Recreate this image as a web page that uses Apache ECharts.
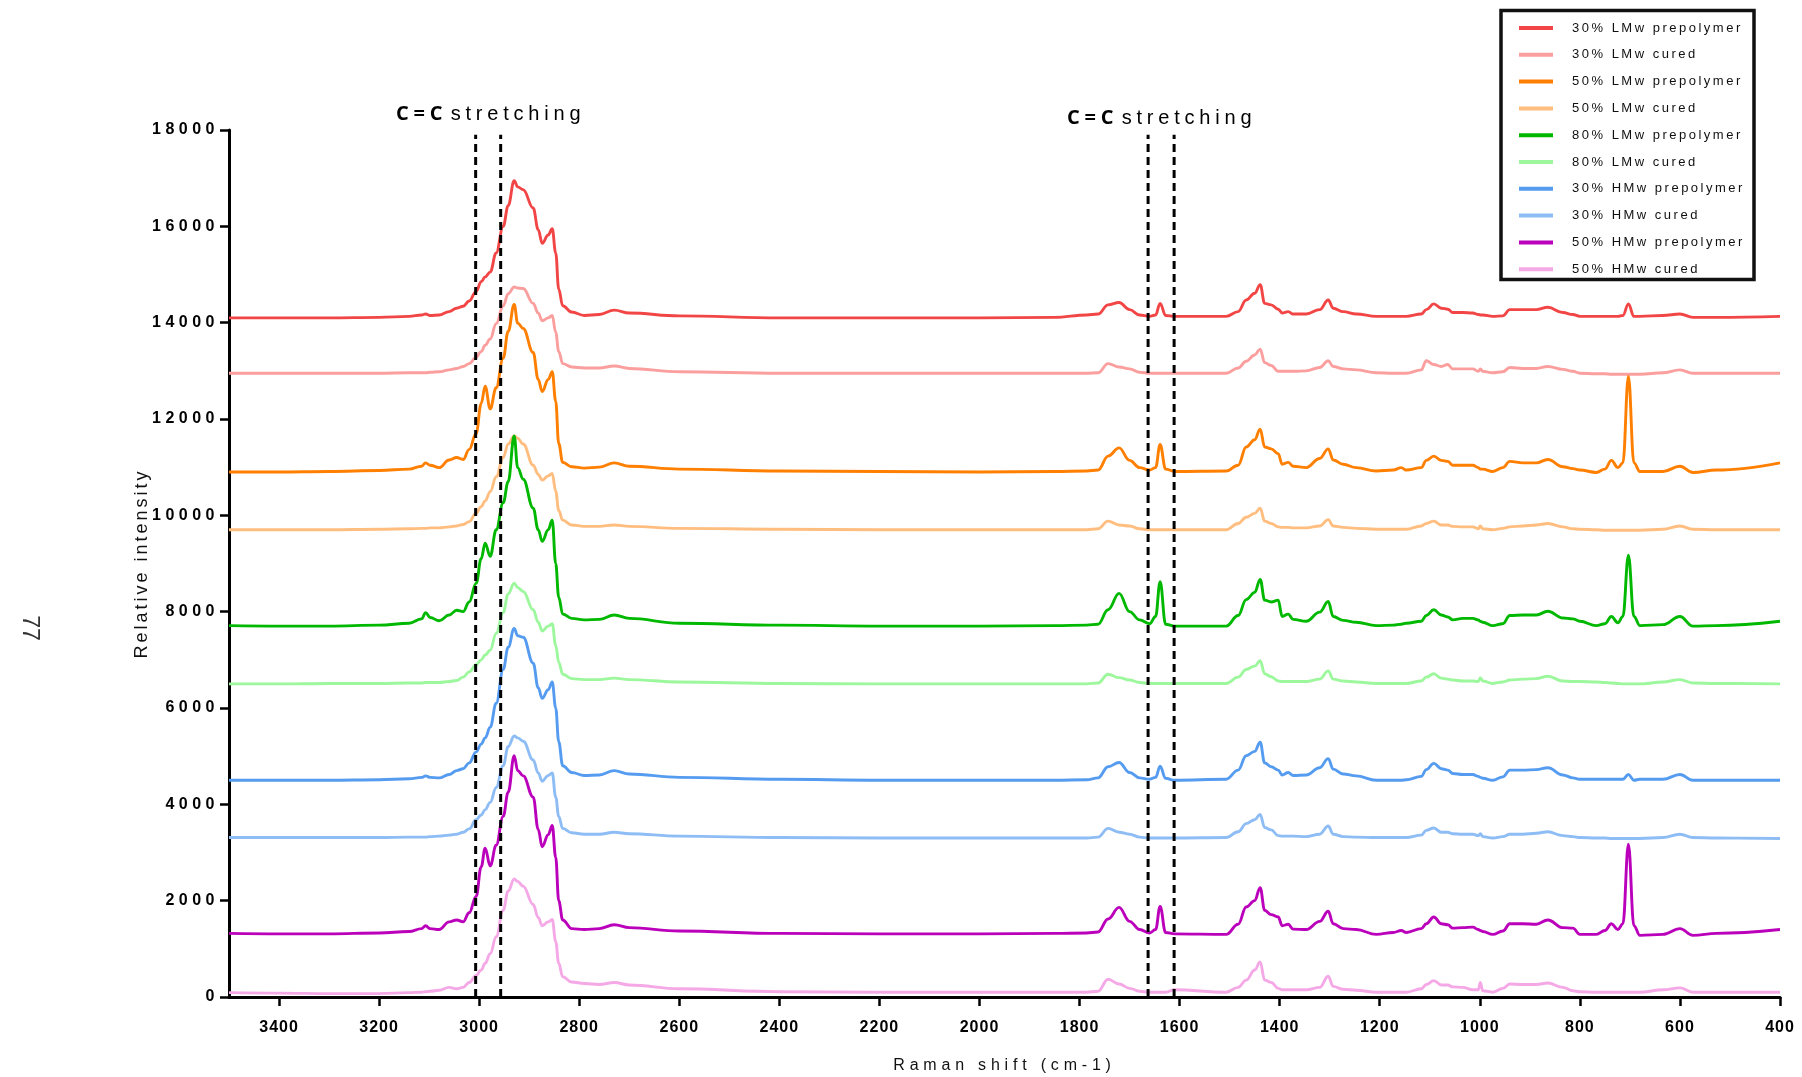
<!DOCTYPE html>
<html><head><meta charset="utf-8">
<script src="https://cdn.jsdelivr.net/npm/echarts@6.0.0/dist/echarts.min.js"></script>
<style>html,body{margin:0;padding:0;background:#fff}#c{width:1802px;height:1077px}</style>
</head><body><div id="c"></div>
<script>
// letter-spacing support: a font family token "lspNN" sets NN/10 px spacing
(function(){
  var P = window.CanvasRenderingContext2D && CanvasRenderingContext2D.prototype;
  if (!P) return;
  var d = Object.getOwnPropertyDescriptor(P, 'font');
  if (!d || !('letterSpacing' in P)) return;
  Object.defineProperty(P, 'font', {
    configurable: true, enumerable: d.enumerable,
    get: function(){ return d.get.call(this); },
    set: function(v){
      d.set.call(this, v);
      var m = /lsp(\d+)/.exec(v);
      this.letterSpacing = m ? (m[1] / 10) + 'px' : '0px';
    }
  });
})();

// ---------------- DATA ----------------
const shifts = [
  3500, 3400, 3300, 3200, 3140, 3115, 3107, 3098, 3080, 3060,
  3045, 3032, 3020, 3006, 2996, 2988, 2978, 2966, 2952, 2942,
  2930, 2923, 2912, 2892, 2882, 2874, 2862, 2854, 2847, 2841,
  2833, 2815, 2790, 2760, 2730, 2700, 2600, 2400, 2200, 2000,
  1850, 1786, 1763, 1743, 1721, 1700, 1680, 1660, 1648, 1639,
  1628, 1610, 1507, 1483, 1467, 1450, 1439, 1430, 1417, 1403,
  1395, 1383, 1373, 1347, 1320, 1303, 1293, 1273, 1247, 1207,
  1173, 1157, 1147, 1117, 1107, 1092, 1077, 1064, 1054, 1034,
  1014, 1003, 999, 994, 974, 954, 940, 914, 887, 864,
  834, 814, 800, 767, 750, 737, 724, 714, 703, 692,
  680, 634, 600, 574, 527, 400
];

const lmw30Prepolymer = [
  14100, 14100, 14100, 14110, 14130, 14160, 14180, 14150, 14160, 14230,
  14300, 14340, 14450, 14650, 14850, 14950, 15050, 15450, 16000, 16430,
  16950, 16820, 16760, 16380, 15930, 15650, 15820, 15950, 15450, 14700,
  14350, 14220, 14150, 14170, 14260, 14200, 14140, 14100, 14100, 14100,
  14110, 14160, 14180, 14370, 14420, 14270, 14160, 14130, 14160, 14400,
  14150, 14130, 14130, 14230, 14470, 14610, 14790, 14400, 14370, 14280,
  14200, 14230, 14180, 14180, 14270, 14470, 14300, 14230, 14180, 14130,
  14130, 14130, 14130, 14180, 14270, 14390, 14300, 14280, 14210, 14210,
  14200, 14170, 14160, 14160, 14130, 14140, 14270, 14270, 14270, 14320,
  14210, 14170, 14130, 14130, 14130, 14130, 14130, 14150, 14390, 14130,
  14130, 14150, 14180, 14110, 14110, 14130
];
const lmw30Cured = [
  12950, 12950, 12950, 12950, 12960, 12960, 12960, 12970, 12980, 13020,
  13050, 13090, 13150, 13280, 13400, 13530, 13660, 13980, 14350, 14600,
  14740, 14720, 14710, 14400, 14200, 14040, 14100, 14150, 13800, 13400,
  13150, 13080, 13060, 13060, 13100, 13050, 12980, 12950, 12950, 12950,
  12950, 12950, 12960, 13150, 13080, 13040, 12970, 12950, 12950, 12950,
  12950, 12950, 12950, 13060, 13200, 13330, 13450, 13170, 13110, 12990,
  12990, 12990, 12990, 13000, 13070, 13210, 13090, 13040, 13020, 12960,
  12950, 12950, 12950, 13020, 13210, 13130, 13090, 13130, 13040, 13040,
  13040, 12990, 13040, 12990, 12960, 12980, 13070, 13050, 13050, 13090,
  13030, 12990, 12950, 12940, 12940, 12930, 12930, 12930, 12930, 12930,
  12930, 12960, 13020, 12950, 12950, 12950
];
const lmw50Prepolymer = [
  10900, 10900, 10910, 10930, 10960, 11020, 11090, 11040, 10990, 11150,
  11200, 11160, 11370, 11700, 12320, 12680, 12210, 12650, 13260, 13820,
  14380, 13990, 13880, 13380, 12820, 12570, 12820, 12980, 12370, 11490,
  11100, 11010, 10980, 11000, 11090, 11020, 10960, 10920, 10910, 10900,
  10910, 10920, 10940, 11230, 11400, 11140, 10990, 10940, 10990, 11470,
  10960, 10910, 10920, 11040, 11420, 11570, 11790, 11420, 11380, 11280,
  11060, 11100, 11020, 10990, 11180, 11380, 11150, 11060, 10990, 10920,
  10940, 10990, 10940, 10990, 11140, 11230, 11140, 11120, 11040, 11040,
  11040, 10990, 10960, 10960, 10910, 10990, 11120, 11090, 11090, 11160,
  11010, 10970, 10940, 10890, 10960, 11140, 10990, 11090, 12890, 11090,
  10910, 10910, 11020, 10890, 10940, 11090
];
const lmw50Cured = [
  9700, 9700, 9700, 9710, 9720, 9730, 9730, 9740, 9740, 9760,
  9780, 9810, 9870, 10050, 10180, 10300, 10490, 10800, 11200, 11480,
  11650, 11600, 11480, 11040, 10850, 10730, 10820, 10870, 10500, 10100,
  9900, 9800, 9770, 9770, 9800, 9770, 9730, 9710, 9700, 9700,
  9700, 9700, 9720, 9880, 9800, 9780, 9720, 9700, 9700, 9700,
  9700, 9700, 9700, 9830, 9960, 10040, 10150, 9880, 9830, 9760,
  9750, 9750, 9740, 9740, 9780, 9910, 9780, 9750, 9730, 9710,
  9710, 9710, 9710, 9780, 9830, 9880, 9800, 9800, 9770, 9760,
  9760, 9720, 9780, 9720, 9700, 9730, 9760, 9780, 9800, 9830,
  9760, 9720, 9710, 9700, 9690, 9690, 9690, 9690, 9690, 9690,
  9690, 9710, 9780, 9710, 9700, 9700
];
const lmw80Prepolymer = [
  7710, 7700, 7700, 7720, 7760, 7850, 7980, 7880, 7810, 7930,
  8030, 8000, 8200, 8590, 9100, 9420, 9150, 9700, 10260, 10700,
  11650, 10990, 10750, 10150, 9700, 9460, 9700, 9900, 9000, 8300,
  7950, 7860, 7830, 7840, 7930, 7860, 7760, 7720, 7700, 7700,
  7710, 7720, 7740, 8040, 8380, 8000, 7830, 7750, 7900, 8620,
  7740, 7700, 7700, 7920, 8250, 8400, 8670, 8240, 8200, 8240,
  7900, 7950, 7840, 7800, 7990, 8210, 7900, 7820, 7780, 7710,
  7720, 7740, 7760, 7800, 7920, 8040, 7930, 7890, 7830, 7860,
  7860, 7830, 7800, 7780, 7710, 7750, 7920, 7930, 7930, 8010,
  7870, 7850, 7800, 7710, 7750, 7900, 7770, 7900, 9170, 7900,
  7710, 7730, 7900, 7700, 7710, 7800
];
const lmw80Cured = [
  6500, 6500, 6510, 6510, 6520, 6520, 6530, 6530, 6530, 6550,
  6570, 6640, 6750, 6900, 7000, 7100, 7200, 7550, 7980, 8370,
  8590, 8500, 8420, 8040, 7780, 7600, 7700, 7750, 7300, 6950,
  6700, 6610, 6590, 6590, 6620, 6590, 6540, 6510, 6500, 6500,
  6500, 6500, 6520, 6700, 6630, 6580, 6530, 6510, 6510, 6510,
  6510, 6510, 6510, 6640, 6800, 6870, 6980, 6710, 6650, 6560,
  6550, 6550, 6550, 6550, 6600, 6770, 6600, 6560, 6540, 6510,
  6510, 6510, 6510, 6560, 6640, 6710, 6620, 6600, 6580, 6560,
  6560, 6550, 6630, 6560, 6510, 6540, 6580, 6600, 6610, 6660,
  6560, 6550, 6550, 6540, 6530, 6520, 6510, 6500, 6500, 6500,
  6500, 6540, 6590, 6520, 6510, 6500
];
const hmw30Prepolymer = [
  4500, 4500, 4500, 4510, 4530, 4560, 4590, 4560, 4550, 4620,
  4700, 4740, 4860, 5090, 5250, 5380, 5600, 6100, 6800, 7260,
  7650, 7500, 7470, 6930, 6420, 6200, 6380, 6540, 6000, 5300,
  4800, 4660, 4600, 4610, 4700, 4630, 4560, 4520, 4500, 4500,
  4500, 4510, 4550, 4780, 4870, 4660, 4550, 4520, 4560, 4790,
  4540, 4500, 4520, 4710, 5010, 5100, 5290, 4860, 4780, 4710,
  4610, 4660, 4600, 4610, 4760, 4950, 4730, 4630, 4590, 4500,
  4500, 4500, 4510, 4580, 4720, 4850, 4740, 4710, 4640, 4620,
  4620, 4580, 4560, 4540, 4500, 4570, 4710, 4710, 4720, 4760,
  4610, 4550, 4520, 4520, 4520, 4520, 4520, 4520, 4620, 4500,
  4520, 4520, 4620, 4500, 4500, 4500
];
const hmw30Cured = [
  3310, 3310, 3310, 3310, 3320, 3320, 3320, 3330, 3340, 3360,
  3380, 3420, 3490, 3680, 3780, 3890, 4040, 4350, 4800, 5200,
  5420, 5380, 5310, 4920, 4650, 4480, 4600, 4650, 4150, 3750,
  3500, 3410, 3380, 3380, 3420, 3390, 3340, 3310, 3300, 3300,
  3300, 3300, 3320, 3500, 3420, 3380, 3320, 3300, 3300, 3300,
  3300, 3300, 3310, 3430, 3600, 3680, 3790, 3520, 3470, 3350,
  3340, 3340, 3340, 3330, 3380, 3550, 3380, 3330, 3320, 3310,
  3310, 3310, 3310, 3360, 3460, 3510, 3420, 3420, 3390, 3380,
  3380, 3350, 3390, 3330, 3300, 3330, 3380, 3380, 3400, 3430,
  3350, 3330, 3310, 3300, 3300, 3290, 3290, 3290, 3290, 3290,
  3290, 3310, 3380, 3310, 3300, 3290
];
const hmw50Prepolymer = [
  1320, 1310, 1310, 1330, 1360, 1420, 1480, 1420, 1400, 1560,
  1600, 1560, 1750, 2090, 2700, 3090, 2720, 3150, 3750, 4250,
  5010, 4700, 4590, 4150, 3480, 3120, 3370, 3560, 2900, 2000,
  1600, 1420, 1400, 1420, 1500, 1440, 1370, 1320, 1310, 1310,
  1320, 1330, 1350, 1620, 1860, 1570, 1400, 1330, 1400, 1880,
  1340, 1310, 1300, 1510, 1870, 2000, 2270, 1800, 1710, 1660,
  1480, 1510, 1410, 1400, 1570, 1780, 1520, 1420, 1400, 1300,
  1340, 1380, 1340, 1420, 1520, 1660, 1520, 1500, 1430, 1440,
  1450, 1400, 1380, 1360, 1300, 1370, 1520, 1520, 1510, 1600,
  1440, 1430, 1300, 1300, 1380, 1520, 1400, 1520, 3170, 1480,
  1280, 1300, 1420, 1280, 1320, 1400
];
const hmw50Cured = [
  90, 80, 70, 70, 90, 100, 110, 120, 140, 200,
  170, 200, 300, 450, 560, 700, 900, 1250, 1800, 2200,
  2450, 2400, 2300, 1920, 1650, 1480, 1560, 1610, 1150, 700,
  420, 310, 280, 260, 300, 250, 170, 110, 100, 100,
  100, 100, 120, 370, 270, 180, 120, 100, 100, 100,
  100, 150, 100, 200, 350, 560, 730, 350, 300, 180,
  150, 150, 150, 150, 200, 430, 220, 160, 140, 100,
  100, 100, 100, 170, 260, 340, 250, 250, 210, 200,
  150, 150, 300, 130, 100, 180, 270, 260, 260, 290,
  200, 130, 110, 100, 100, 100, 100, 100, 100, 100,
  100, 150, 190, 100, 100, 100
];

const seriesNames = [
  '30% LMw prepolymer', '30% LMw cured', '50% LMw prepolymer', '50% LMw cured',
  '80% LMw prepolymer', '80% LMw cured', '30% HMw prepolymer', '30% HMw cured',
  '50% HMw prepolymer', '50% HMw cured'
];
const seriesColors = [
  '#F24646', '#FB9E9E', '#FF7F00', '#FFBE80', '#00B800',
  '#9DF79D', '#559CF0', '#8EBDF5', '#BB00BB', '#F5A8E6'
];
const seriesValues = [
  lmw30Prepolymer, lmw30Cured, lmw50Prepolymer, lmw50Cured, lmw80Prepolymer,
  lmw80Cured, hmw30Prepolymer, hmw30Cured, hmw50Prepolymer, hmw50Cured
];

const xTicks = [3400, 3200, 3000, 2800, 2600, 2400, 2200, 2000, 1800, 1600, 1400, 1200, 1000, 800, 600, 400];
const yTicks = [0, 2000, 4000, 6000, 8000, 10000, 12000, 14000, 16000, 18000];
const dashedShifts = [3007, 2957, 1663, 1611];
const dashedTop = 17900;

// ---------------- CHART ----------------
const chart = echarts.init(document.getElementById('c'), null, {renderer: 'canvas'});

const series = seriesValues.map(function (vals, k) {
  return {
    type: 'line', name: seriesNames[k],
    data: shifts.map(function (s, i) { return [s, vals[i]]; }),
    symbol: 'none', showSymbol: false,
    smooth: 0.4, smoothMonotone: 'x',
    lineStyle: {color: seriesColors[k], width: 2.9},
    itemStyle: {color: seriesColors[k]},
    silent: true, z: 2
  };
});
dashedShifts.forEach(function (s) {
  series.push({
    type: 'line', name: 'dash' + s,
    data: [[s, 0], [s, dashedTop]],
    symbol: 'none', showSymbol: false, silent: true, z: 5,
    lineStyle: {color: '#000', width: 3, type: [8, 5]}
  });
});

function plain(v) { return String(v); }

const option = {
  animation: false,
  backgroundColor: '#ffffff',
  grid: {left: 229, right: 22, top: 130, bottom: 80, containLabel: false, outerBoundsMode: 'none'},
  xAxis: {
    type: 'value', min: 400, max: 3500, interval: 200, inverse: true,
    name: 'Raman shift (cm-1)', nameLocation: 'middle', nameGap: 58, nameMoveOverlap: false,
    nameTextStyle: {fontSize: 16, fontFamily: "'Liberation Sans', lsp48", color: '#111'},
    axisLine: {show: true, onZero: false, lineStyle: {color: '#000', width: 3}},
    axisTick: {show: true, length: 9, customValues: xTicks, lineStyle: {color: '#000', width: 2.5}},
    axisLabel: {customValues: xTicks, formatter: plain, margin: 22, fontSize: 16, fontWeight: 'bold',
      fontFamily: "'Liberation Sans Narrow', 'Liberation Sans', lsp10", color: '#000'},
    splitLine: {show: false}
  },
  yAxis: {
    type: 'value', min: 0, max: 18000, interval: 2000,
    name: 'Relative intensity', nameLocation: 'middle', nameGap: 76, nameRotate: 90, nameMoveOverlap: false,
    nameTextStyle: {fontSize: 18, fontFamily: "'Liberation Sans Narrow', 'Liberation Sans', lsp30", color: '#111'},
    axisLine: {show: true, onZero: false, lineStyle: {color: '#000', width: 3}},
    axisTick: {show: true, length: 9, customValues: yTicks, lineStyle: {color: '#000', width: 2.5}},
    axisLabel: {customValues: yTicks, formatter: plain, margin: 10, fontSize: 16, fontWeight: 'bold',
      fontFamily: "'Liberation Sans', lsp45", color: '#000'},
    splitLine: {show: false}
  },
  legend: {
    data: seriesNames, orient: 'vertical', left: 1519, top: 20, padding: 0,
    itemWidth: 34, itemHeight: 4, itemGap: 10.8, icon: 'rect', selectedMode: false,
    textStyle: {fontSize: 13, lineHeight: 16, fontFamily: "'Liberation Sans', lsp25", color: '#111', padding: [0, 0, 0, 14]}
  },
  graphic: [
    {type: 'rect', silent: true, z: 10,
      shape: {x: 1501, y: 10.5, width: 253, height: 269},
      style: {fill: 'none', stroke: '#111', lineWidth: 3.5}},
    {type: 'text', silent: true, z: 10, x: 396, y: 114,
      style: {text: '{b|C=C} {r|stretching}', align: 'left', verticalAlign: 'middle',
        textAlign: 'left', textVerticalAlign: 'middle',
        rich: {
          b: {fontFamily: "'Open Sans', lsp48", fontWeight: 'bold', fontSize: 20, fill: '#000'},
          r: {fontFamily: "'Liberation Sans', lsp48", fontSize: 20, fill: '#000'}
        }}},
    {type: 'text', silent: true, z: 10, x: 1067, y: 118,
      style: {text: '{b|C=C} {r|stretching}', align: 'left', verticalAlign: 'middle',
        textAlign: 'left', textVerticalAlign: 'middle',
        rich: {
          b: {fontFamily: "'Open Sans', lsp48", fontWeight: 'bold', fontSize: 20, fill: '#000'},
          r: {fontFamily: "'Liberation Sans', lsp48", fontSize: 20, fill: '#000'}
        }}},
    {type: 'text', silent: true, z: 10, x: 29, y: 628, rotation: -Math.PI / 2,
      style: {text: '77', fontSize: 23, fontFamily: "'Liberation Sans'", fill: '#333',
        align: 'center', verticalAlign: 'middle', textAlign: 'center', textVerticalAlign: 'middle'}}
  ],
  series: series
};
chart.setOption(option);
</script></body></html>
